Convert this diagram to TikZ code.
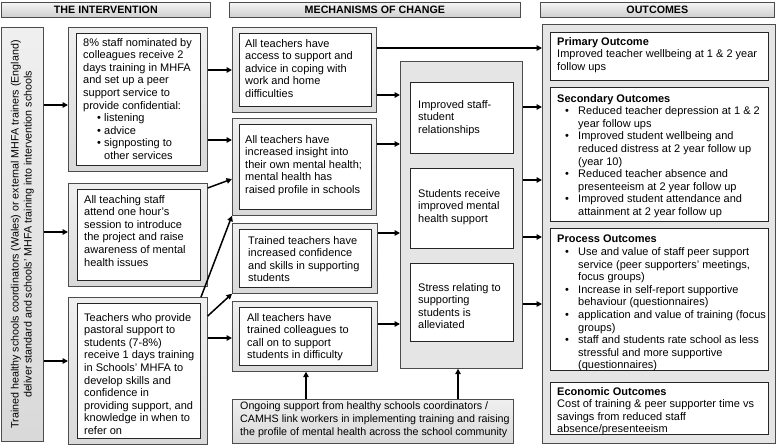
\documentclass[tikz,border=0pt]{standalone}
\usepackage{fontspec}
\setmainfont{Liberation Sans}
\usetikzlibrary{arrows.meta}
\newcommand\mkbox[6]{\node[#1, anchor=north west, inner sep=0pt, minimum width={(#5)-(#3)}, minimum height={(#6)-(#4)}] (#2) at (#3,#4) {};}
\newcommand\bul[1]{\makebox[21pt][l]{\hspace*{#1}\textbullet}}
\begin{document}
\begin{tikzpicture}[x=1pt,y=-1pt,
  outerbox/.style={draw=gray!60!black, line width=0.7pt, top color=gray!12, bottom color=gray!30},
  flatbox/.style={draw=gray!60!black, line width=0.7pt, fill=gray!20},
  innerbox/.style={draw=black!85, line width=0.7pt, fill=white},
  hdrbox/.style={draw=gray!60!black, line width=0.7pt, top color=gray!8, bottom color=gray!38},
  txt/.style={anchor=north west, align=left, inner sep=0pt, font=\fontsize{11}{12.6}\selectfont},
  hdrtxt/.style={inner sep=0pt, font=\bfseries\fontsize{10.7}{12.6}\selectfont},
  arr/.style={-{Triangle[length=5.5pt,width=5.5pt]}, line width=1.5pt}]
\fill[white] (0,0) rectangle (776,446);
\useasboundingbox (0,0) rectangle (776,446);
% headers
\mkbox{hdrbox}{H1}{1}{2}{210}{17}
\node[hdrtxt] (H1t) at (H1.center) {THE INTERVENTION};
\mkbox{hdrbox}{H2}{229}{2}{520}{17}
\node[hdrtxt] (H2t) at (H2.center) {MECHANISMS OF CHANGE};
\mkbox{hdrbox}{H3}{540}{2}{774}{17}
\node[hdrtxt] (H3t) at (H3.center) {OUTCOMES};
% left vertical box
\mkbox{outerbox}{L}{1}{27}{43}{441}
\node[rotate=90, align=center, inner sep=0pt, font=\fontsize{10.7}{13}\selectfont] (Lt) at (L.center) {Trained healthy schools coordinators (Wales) or external MHFA trainers (England)\\deliver standard and schools' MHFA training into intervention schools};
% intervention boxes
\mkbox{outerbox}{A}{68}{27}{207}{171}
\mkbox{innerbox}{Ai}{76}{33}{200}{165}
\node[txt] (At) at (83,38) {8\% staff nominated by\\colleagues receive 2\\days training in MHFA\\and set up a peer\\support service to\\provide confidential:\\\bul{14pt}listening\\\bul{14pt}advice\\\bul{14pt}signposting to\\\hspace*{21pt}other services};
\mkbox{outerbox}{B}{68}{183}{207}{286}
\mkbox{innerbox}{Bi}{77}{189}{200}{280}
\node[txt] (Bt) at (84,195) {All teaching staff\\attend one hour's\\session to introduce\\the project and raise\\awareness of mental\\health issues};
\mkbox{outerbox}{C}{68}{297}{207}{444}
\mkbox{innerbox}{Ci}{77}{303}{200}{438}
\node[txt] (Ct) at (84,313) {Teachers who provide\\pastoral support to\\students (7-8\%)\\receive 1 days training\\in Schools' MHFA to\\develop skills and\\confidence in\\providing support, and\\knowledge in when to\\refer on};
% mechanisms
\mkbox{outerbox}{M1}{232}{27}{376}{112}
\mkbox{innerbox}{M1i}{239}{33}{371}{106}
\node[txt] (M1t) at (245,39) {All teachers have\\access to support and\\advice in coping with\\work and home\\difficulties};
\mkbox{outerbox}{M2}{232}{118}{376}{215}
\mkbox{innerbox}{M2i}{239}{124}{371}{209}
\node[txt] (M2t) at (245,135) {All teachers have\\increased insight into\\their own mental health;\\mental health has\\raised profile in schools};
\mkbox{outerbox}{M3}{232}{223}{377}{293}
\mkbox{innerbox}{M3i}{239}{229}{371}{287}
\node[txt] (M3t) at (248,236) {Trained teachers have\\increased confidence\\and skills in supporting\\students};
\mkbox{outerbox}{M4}{232}{301}{377}{371}
\mkbox{innerbox}{M4i}{239}{307}{371}{365}
\node[txt] (M4t) at (247,313) {All teachers have\\trained colleagues to\\call on to support\\students in difficulty};
\mkbox{outerbox}{BOT}{232}{399}{513}{443}
\node[txt, font=\fontsize{10.7}{12.6}\selectfont] (BOTt) at (240,402) {Ongoing support from healthy schools coordinators /\\CAMHS link workers in implementing training and raising\\the profile of mental health across the school community};
% middle column
\mkbox{flatbox}{MID}{400}{61}{522}{368}
\mkbox{innerbox}{W1}{410}{82}{513}{153}
\node[txt] (W1t) at (418,100) {Improved staff-\\student\\relationships};
\mkbox{innerbox}{W2}{410}{168}{513}{248}
\node[txt] (W2t) at (418,189) {Students receive\\improved mental\\health support};
\mkbox{innerbox}{W3}{410}{263}{513}{341}
\node[txt] (W3t) at (418,283) {Stress relating to\\supporting\\students is\\alleviated};
% outcomes
\mkbox{flatbox}{OUT}{542}{24}{775}{443}
\mkbox{innerbox}{O1}{550}{32}{768}{80}
\node[txt] (O1t) at (557,37) {\textbf{Primary Outcome}\\Improved teacher wellbeing at 1 \& 2 year\\follow ups};
\mkbox{innerbox}{O2}{550}{87}{768}{221}
\node[txt] (O2t) at (557,94) {\textbf{Secondary Outcomes}\\\bul{8pt}Reduced teacher depression at 1 \& 2\\\hspace*{21pt}year follow ups\\\bul{8pt}Improved student wellbeing and\\\hspace*{21pt}reduced distress at 2 year follow up\\\hspace*{21pt}(year 10)\\\bul{8pt}Reduced teacher absence and\\\hspace*{21pt}presenteeism at 2 year follow up\\\bul{8pt}Improved student attendance and\\\hspace*{21pt}attainment at 2 year follow up};
\mkbox{innerbox}{O3}{550}{228}{768}{370}
\node[txt] (O3t) at (557,235) {\textbf{Process Outcomes}\\\bul{8pt}Use and value of staff peer support\\\hspace*{21pt}service (peer supporters' meetings,\\\hspace*{21pt}focus groups)\\\bul{8pt}Increase in self-report supportive\\\hspace*{21pt}behaviour (questionnaires)\\\bul{8pt}application and value of training (focus\\\hspace*{21pt}groups)\\\bul{8pt}staff and students rate school as less\\\hspace*{21pt}stressful and more supportive\\\hspace*{21pt}(questionnaires)};
\mkbox{innerbox}{O4}{550}{382}{768}{434}
\node[txt] (O4t) at (557,387) {\textbf{Economic Outcomes}\\Cost of training \& peer supporter time vs\\savings from reduced staff\\absence/presenteeism};
% arrows
\draw[arr] (L.east |- 0,105) -- (A.west |- 0,105);
\draw[arr] (L.east |- 0,232) -- (B.west |- 0,232);
\draw[arr] (L.east |- 0,361) -- (C.west |- 0,361);
\draw[arr] (A.east |- 0,70) -- (M1.west |- 0,70);
\draw[arr] (A.east |- 0,140) -- (M2.west |- 0,140);
\draw[arr] (B.east |- 0,188) -- (M2.west |- 0,179);
\draw[arr] (C.north -| 201,0) -- (M2.south west);
\draw[arr] (C.east |- 0,316) -- (M3.south west);
\draw[arr] (C.east |- 0,338) -- (M4.west |- 0,338);
\draw[arr] (M1.east |- 0,48) -- (OUT.west |- 0,48);
\draw[arr] (M1.east |- 0,95) -- (MID.west |- 0,95);
\draw[arr] (M2.east |- 0,144) -- (MID.west |- 0,144);
\draw[arr] (M3.east |- 0,233) -- (MID.west |- 0,233);
\draw[arr] (M4.east |- 0,324) -- (MID.west |- 0,324);
\draw[arr] (MID.east |- 0,107) -- (OUT.west |- 0,107);
\draw[arr] (MID.east |- 0,180) -- (OUT.west |- 0,180);
\draw[arr] (MID.east |- 0,237) -- (OUT.west |- 0,237);
\draw[arr] (MID.east |- 0,304) -- (OUT.west |- 0,304);
\draw[arr] (BOT.north -| 306,0) -- (M4.south -| 306,0);
\draw[arr] (BOT.north -| 458,0) -- (MID.south -| 458,0);
\end{tikzpicture}
\end{document}
